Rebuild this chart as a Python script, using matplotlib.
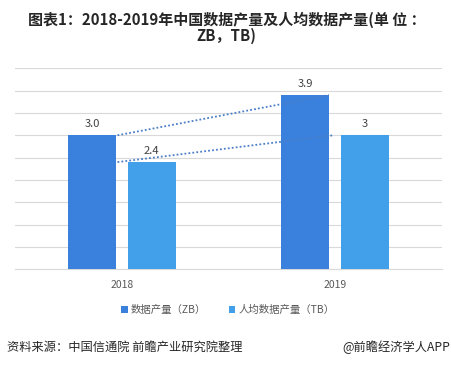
import matplotlib
matplotlib.use("Agg")
import matplotlib.pyplot as plt
import numpy as np

plt.rcParams['font.family'] = ['Noto Sans CJK SC', 'DejaVu Sans']

years = ["2018", "2019"]
data_zb = [3.0, 3.9]
data_tb = [2.4, 3.0]
labels_zb = ["3.0", "3.9"]
labels_tb = ["2.4", "3"]
series_names = ["数据产量（ZB）", "人均数据产量（TB）"]

c_dark = "#3a80dd"
c_light = "#42a0ea"

fig = plt.figure(figsize=(4.52, 3.65), dpi=100)
ax = fig.add_axes([15/452, 1-269.3/365, 427/452, (269.3-68.3)/365])

x = np.arange(len(years))
w = 0.225
off = 0.14
b1 = ax.bar(x - off, data_zb, w, color=c_dark, label=series_names[0], zorder=3)
b2 = ax.bar(x + off, data_tb, w, color=c_light, label=series_names[1], zorder=3)

for xi, v, t in zip(x - off, data_zb, labels_zb):
    ax.text(xi, v + 0.14, t, ha='center', va='bottom', fontsize=8, color='#404040')
for xi, v, t in zip(x + off, data_tb, labels_tb):
    ax.text(xi, v + 0.14, t, ha='center', va='bottom', fontsize=8, color='#404040')

# dotted trend lines
ax.plot([x[0] - 0.02, x[1] - 0.03], [data_zb[0], data_zb[1]], linestyle=(0, (1, 1.2)),
        color='#4a7fc8', linewidth=1.3, zorder=4)
ax.plot([x[0] - 0.02, x[1] - 0.01], [data_tb[0], data_tb[1]], linestyle=(0, (1, 1.2)),
        color='#4a7fc8', linewidth=1.3, zorder=4)

ax.set_xlim(-0.5, 1.5)
ax.set_ylim(0, 4.5)
ax.set_yticks(np.arange(0, 4.51, 0.5))
ax.yaxis.grid(True, color='#d9d9d9', linewidth=0.8, zorder=0)
ax.set_axisbelow(True)
ax.tick_params(axis='y', left=False, labelleft=False)
ax.tick_params(axis='x', bottom=False, labelsize=7.5, labelcolor='#595959', pad=4)
ax.set_xticks(x)
ax.set_xticklabels(years)
for s in ['top', 'right', 'left']:
    ax.spines[s].set_visible(False)
ax.spines['bottom'].set_color('#d9d9d9')
ax.spines['bottom'].set_linewidth(0.8)

fig.text(0.502, 1-19.5/365, "图表1：2018-2019年中国数据产量及人均数据产量(单 位 ：",
         ha='center', va='center', fontsize=10.8, fontweight='bold', color='#262626')
fig.text(0.5, 1-35.5/365, "ZB，TB)", ha='center', va='center', fontsize=10.8,
         fontweight='bold', color='#262626')

leg = fig.legend(handles=[b1, b2], labels=series_names, loc='center',
                 bbox_to_anchor=(228/452, 1-310/365), ncol=2, frameon=False,
                 fontsize=7.5, handlelength=0.6, handleheight=0.6, handletextpad=0.3,
                 columnspacing=2.2, labelcolor='#595959')

fig.text(7/452, 1-347/365, "资料来源：中国信通院 前瞻产业研究院整理", ha='left', va='center',
         fontsize=8.8, color='#262626')
fig.text(450/452, 1-347/365, "@前瞻经济学人APP", ha='right', va='center',
         fontsize=8.8, color='#262626')

fig.savefig("out.png", dpi=100)
